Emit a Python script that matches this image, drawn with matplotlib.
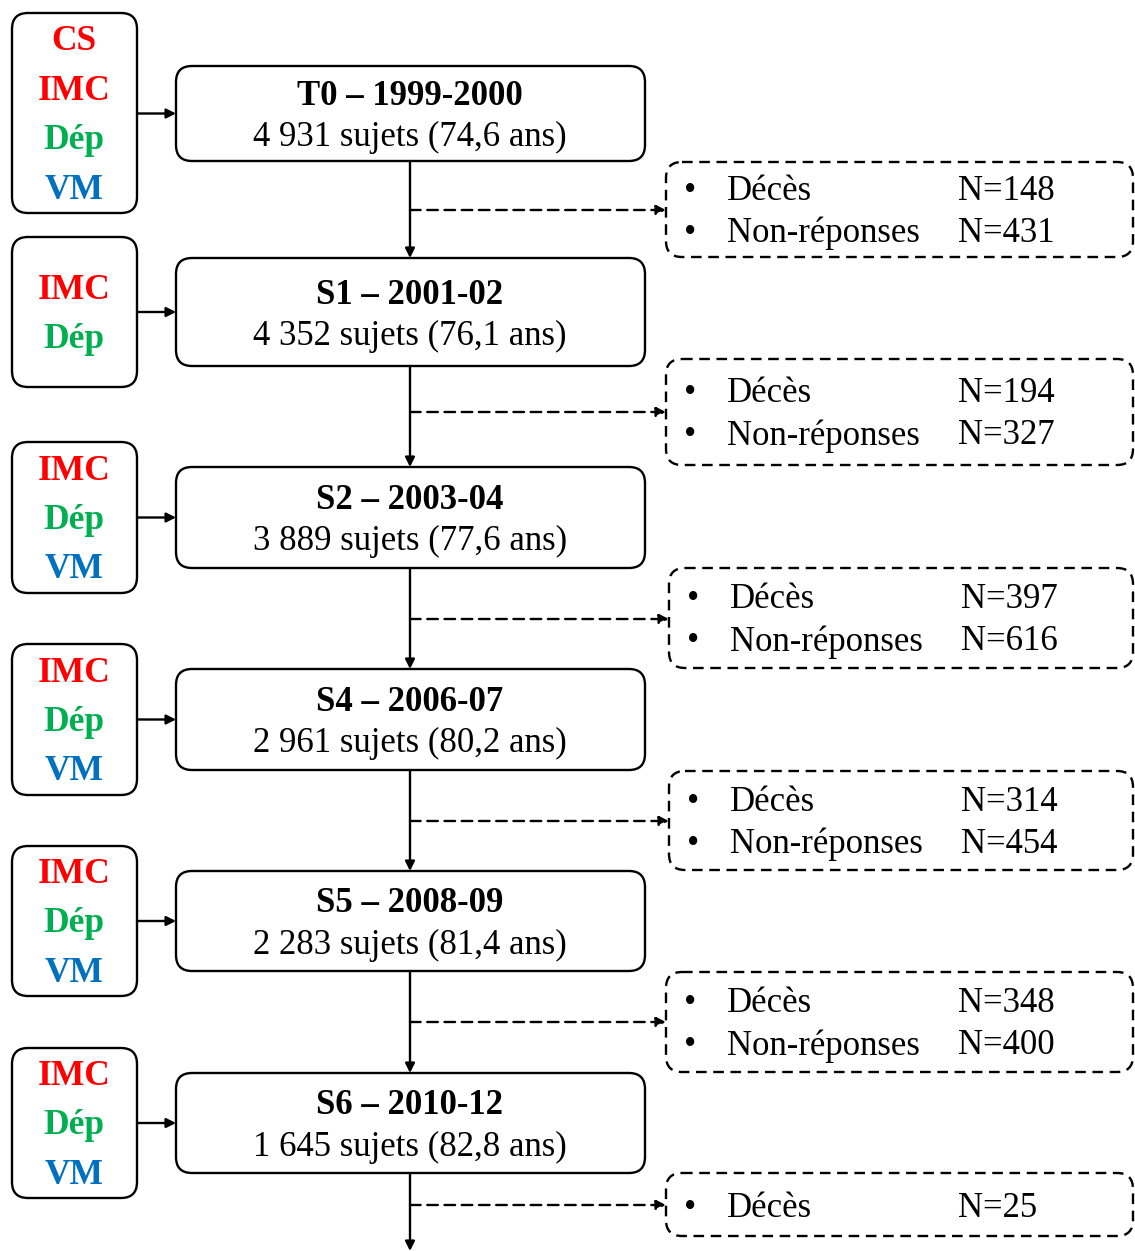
import matplotlib.pyplot as plt
from matplotlib.patches import FancyBboxPatch

plt.rcParams['font.family'] = ['Liberation Serif', 'DejaVu Serif']

# donnees
vagues = ['T0', 'S1', 'S2', 'S4', 'S5', 'S6']
annees = ['1999-2000', '2001-02', '2003-04', '2006-07', '2008-09', '2010-12']
sujets = ['4 931', '4 352', '3 889', '2 961', '2 283', '1 645']
ages = ['74,6', '76,1', '77,6', '80,2', '81,4', '82,8']
mesures = [['CS', 'IMC', 'Dép', 'VM'], ['IMC', 'Dép'], ['IMC', 'Dép', 'VM'],
           ['IMC', 'Dép', 'VM'], ['IMC', 'Dép', 'VM'], ['IMC', 'Dép', 'VM']]
deces = [148, 194, 397, 314, 348, 25]
nonrep = [431, 327, 616, 454, 400, None]

couleurs = {'CS': '#FF0000', 'IMC': '#FF0000', 'Dép': '#00B050', 'VM': '#0070C0'}

# mise en page (pixels)
main_y = [(66, 161), (258, 366), (467, 568), (669, 770), (871, 971), (1073, 1173)]
left_y = [(13, 213), (237, 387), (442, 593), (644, 795), (846, 996), (1048, 1198)]
dash_y = [(162, 257), (359, 465), (568, 668), (771, 870), (972, 1072), (1173, 1236)]
dash_x = [666, 666, 669, 669, 666, 666]
dash_arrow_y = [210, 412, 619, 821, 1022, 1205]
cx = 410
fs = 25
dy_txt = 3

fig = plt.figure(figsize=(11.35, 12.51), dpi=100)
ax = fig.add_axes([0, 0, 1, 1])
ax.set_xlim(0, 1135)
ax.set_ylim(1251, 0)
ax.axis('off')

def boite(x0, y0, x1, y1, ls='-'):
    p = FancyBboxPatch((x0, y0), x1 - x0, y1 - y0,
                       boxstyle='round,pad=0,rounding_size=16',
                       fc='white', ec='black', lw=1.7)
    if ls != '-':
        p.set_linestyle((0, (4.5, 2.8)))
    ax.add_patch(p)

def fleche(x0, y0, x1, y1, dashed=False):
    ax.annotate('', xy=(x1, y1), xytext=(x0, y0),
                arrowprops=dict(arrowstyle='-|>', color='black', lw=1.7,
                                mutation_scale=14, shrinkA=0, shrinkB=0,
                                linestyle=(0, (4.5, 2.8)) if dashed else '-'))

for i in range(len(vagues)):
    y0, y1 = main_y[i]
    boite(176, y0, 645, y1)
    ym = (y0 + y1) / 2
    ax.text(cx, ym - 20 + dy_txt, vagues[i] + ' – ' + annees[i], ha='center',
            va='center', fontsize=fs, fontweight='bold')
    ax.text(cx, ym + 21 + dy_txt, sujets[i] + ' sujets (' + ages[i] + ' ans)',
            ha='center', va='center', fontsize=fs)

    # boite de gauche
    ly0, ly1 = left_y[i]
    boite(12, ly0, 137, ly1)
    n = len(mesures[i])
    lm = (ly0 + ly1) / 2
    for k, m in enumerate(mesures[i]):
        ax.text(74, lm + (k - (n - 1) / 2) * 49.5 + dy_txt, m, ha='center',
                va='center', fontsize=25.5, fontweight='bold', color=couleurs[m])
    fleche(137, ym, 176, ym)

    # fleche verticale
    if i < len(vagues) - 1:
        fleche(cx, y1, cx, main_y[i + 1][0])
    else:
        fleche(cx, y1, cx, 1251)

    # boite pointillee
    dy0, dy1 = dash_y[i]
    dx = dash_x[i]
    boite(dx, dy0, 1133, dy1, ls='--')
    fleche(cx, dash_arrow_y[i], dx, dash_arrow_y[i], dashed=True)
    if nonrep[i] is not None:
        rows = [('Décès', deces[i]), ('Non-réponses', nonrep[i])]
        ry = [(dy0 + dy1) / 2 - 21, (dy0 + dy1) / 2 + 21]
    else:
        rows = [('Décès', deces[i])]
        ry = [(dy0 + dy1) / 2 + 1]
    for (lab, val), yy in zip(rows, ry):
        ax.text(dx + 24, yy + dy_txt, '•', ha='center', va='center', fontsize=fs)
        ax.text(dx + 61, yy + dy_txt, lab, ha='left', va='center', fontsize=fs)
        ax.text(dx + 292, yy + dy_txt, 'N=' + str(val), ha='left', va='center',
                fontsize=fs)

fig.savefig('out.png', dpi=100)
